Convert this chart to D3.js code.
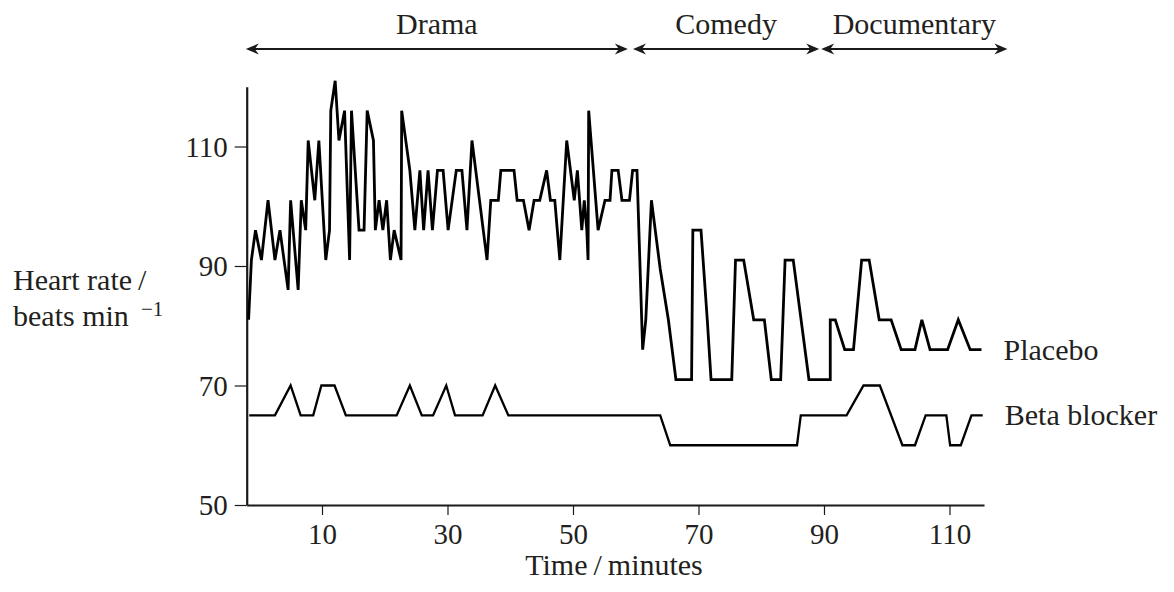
<!DOCTYPE html>
<html><head><meta charset="utf-8">
<script src="https://cdn.jsdelivr.net/npm/d3@7"></script>
<style>
body{margin:0;background:#fff}
svg{display:block}
text{font-family:"Liberation Serif","Times New Roman",serif;fill:#231f20}
</style>
</head><body>
<svg id="c" width="1174" height="592"></svg>
<script>
// ---- data ----
const placeboTime = [-1.7,-1.25,-0.6,0.35,1.4,2.5,3.3,4.6,5.0,6.2,6.7,7.4,7.8,8.85,9.5,10.6,11.2,11.4,12.1,12.7,13.6,14.4,14.7,15.9,16.7,17.2,18.2,18.5,19.1,19.7,20.3,20.9,21.5,22.6,22.7,24.0,24.8,25.6,26.2,26.9,27.6,28.4,29.3,30.1,31.4,32.3,33.1,33.9,36.3,36.9,38.1,38.5,40.6,41.1,42.1,43.0,43.8,44.7,45.8,46.4,47.1,47.9,49.0,50.2,50.7,51.4,51.8,52.2,52.4,52.5,54.0,55.1,55.9,56.2,57.2,57.8,59.0,59.5,60.2,61.1,61.6,62.5,63.9,65.2,66.4,68.9,69.1,70.4,71.4,72.0,75.3,75.9,77.2,78.8,80.5,81.6,83.1,83.8,85.1,87.6,91.0,91.0,91.8,93.3,94.7,96.0,97.2,98.8,100.7,102.3,104.5,105.6,106.9,109.7,111.4,113.3,115.1];
const placeboRate = [81,91,96,91,101,91,96,86,101,86,101,96,111,101,111,91,96,116,121,111,116,91,116,96,96,116,111,96,101,96,101,91,96,91,116,106,96,106,96,106,96,106,106,96,106,106,96,111,91,101,101,106,106,101,101,96,101,101,106,101,101,91,111,101,106,96,101,96,91,116,96,101,101,106,106,101,101,106,106,76,81,101,89.5,81,71,71,96,96,81,71,71,91,91,81,81,71,71,91,91,71,71,81,81,76,76,91,91,81,81,76,76,81,76,76,81,76,76];
const betaTime = [-1.6,2.5,5.0,6.6,8.6,9.9,12.0,13.8,21.9,24.0,25.9,27.7,29.8,31.2,35.6,37.6,39.7,63.9,65.5,85.7,86.3,93.6,96.3,98.9,102.5,104.5,106.2,109.5,110.1,111.8,113.5,115.3];
const betaRate = [65,65,70,65,65,70,70,65,65,70,65,65,70,65,65,70,65,65,60,60,65,65,70,70,60,60,65,65,60,60,65,65];
const seriesLabels = ["Placebo","Beta blocker"];
const xTicks = [10,30,50,70,90,110];
const yTicks = [50,70,90,110];
const segmentNames = ["Drama","Comedy","Documentary"];
const segmentStart = [-2.3,59.4,89.4];
const segmentEnd = [58.9,89.4,119.4];

// ---- chart ----
const svg = d3.select("#c");
const x = d3.scaleLinear().domain([-2,115.5]).range([246.7,984]);
const y = d3.scaleLinear().domain([50,120]).range([505,86.75]);
const ink = "#1a1a1a";

// axes
const xAxis = svg.append("g").attr("transform",`translate(0,${y(50)})`)
  .call(d3.axisBottom(x).tickValues(xTicks).tickSize(10).tickPadding(8).tickSizeOuter(0));
const yAxis = svg.append("g").attr("transform",`translate(${x(-2)},0)`)
  .call(d3.axisLeft(y).tickValues(yTicks).tickSize(12).tickPadding(7).tickSizeOuter(0));
[xAxis,yAxis].forEach(g=>{
  g.select(".domain").attr("stroke",ink).attr("stroke-width",2.2);
  g.selectAll(".tick line").attr("stroke",ink).attr("stroke-width",1.2);
  g.selectAll(".tick text").attr("font-size",29).attr("font-family","Liberation Serif").attr("fill","#231f20");
});
xAxis.selectAll(".tick text").attr("dy","0.71em");
yAxis.selectAll(".tick text").attr("dy","0.34em");

// lines
const line = d3.line().x(d=>x(d[0])).y(d=>y(d[1])).curve(d3.curveLinear);
const placebo = placeboTime.map((t,i)=>[t,placeboRate[i]]);
const beta = betaTime.map((t,i)=>[t,betaRate[i]]);
svg.append("path").datum(placebo).attr("d",line).attr("fill","none")
  .attr("stroke","#000").attr("stroke-width",2.8).attr("stroke-linejoin","miter").attr("stroke-miterlimit",3);
svg.append("path").datum(beta).attr("d",line).attr("fill","none")
  .attr("stroke","#000").attr("stroke-width",2.3).attr("stroke-linejoin","miter").attr("stroke-miterlimit",3);

// series labels
[placebo,beta].forEach((s,i)=>{
  const last = s[s.length-1];
  svg.append("text").attr("x",x(last[0])+22).attr("y",y(last[1])).attr("dy","0.33em")
    .attr("font-size",30).text(seriesLabels[i]);
});

// axis titles
svg.append("text").attr("x",614).attr("y",575).attr("text-anchor","middle")
  .attr("font-size",30).text("Time\u2009/\u2009minutes");
svg.append("text").attr("x",13).attr("y",290).attr("font-size",30).text("Heart rate\u2009/");
svg.append("text").attr("x",13).attr("y",326).attr("font-size",30).text("beats min");
svg.append("text").attr("x",141).attr("y",316).attr("font-size",21).text("\u22121");

// segment arrows
const arrowY = 49;
function head(px,dir){
  // barbed arrowhead, tip at px, pointing dir (+1 right, -1 left)
  const L=13,W=5.5,b=4;
  return `M${px},${arrowY} L${px-dir*L},${arrowY-W} L${px-dir*(L-b)},${arrowY} L${px-dir*L},${arrowY+W} Z`;
}
segmentNames.forEach((nm,i)=>{
  const a = x(segmentStart[i])+1, b = x(segmentEnd[i])-1;
  svg.append("line").attr("x1",a+4).attr("x2",b-4).attr("y1",arrowY).attr("y2",arrowY)
    .attr("stroke",ink).attr("stroke-width",2);
  svg.append("path").attr("d",head(a,-1)).attr("fill",ink);
  svg.append("path").attr("d",head(b,1)).attr("fill",ink);
  svg.append("text").attr("x",(a+b)/2).attr("y",arrowY-15).attr("text-anchor","middle")
    .attr("font-size",30).text(nm);
});
</script>
</body></html>
